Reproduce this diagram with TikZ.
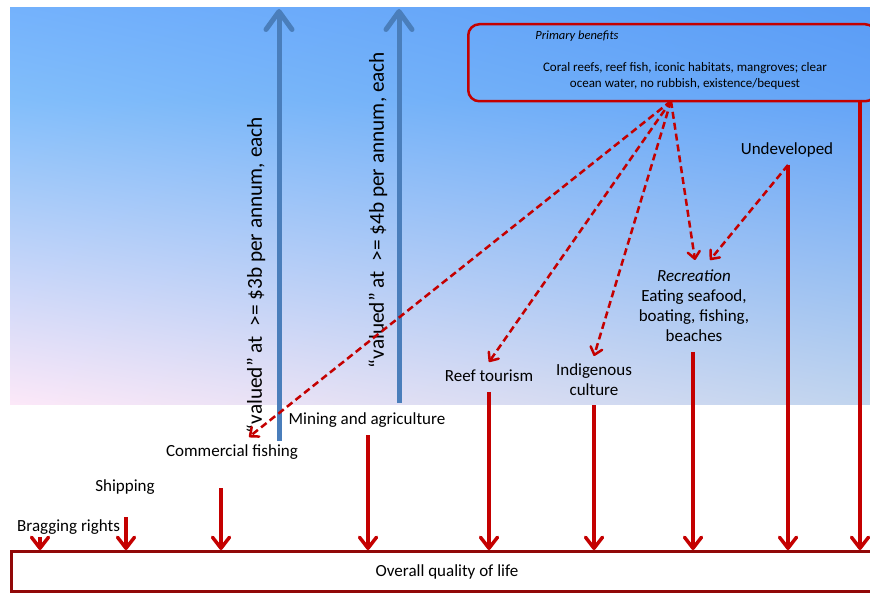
\documentclass[tikz,border=0pt]{standalone}
\usepackage{fontspec}
\setmainfont{Carlito}
\usetikzlibrary{arrows.meta,shadings}
\definecolor{bgUL}{RGB}{116,178,252}
\definecolor{bgUR}{RGB}{90,156,246}
\definecolor{bgML}{RGB}{130,190,250}
\definecolor{bgMR}{RGB}{100,164,247}
\definecolor{bgLL}{RGB}{252,232,248}
\definecolor{bgLR}{RGB}{192,212,238}
\definecolor{redc}{RGB}{196,0,0}
\definecolor{darkredc}{RGB}{145,8,8}
\definecolor{bluec}{RGB}{74,126,187}
\tikzset{
  lbl/.style={inner sep=1pt, font=\fontsize{17}{20}\selectfont, align=center},
  small/.style={inner sep=1pt, font=\fontsize{13}{16}\selectfont, align=center},
  rot/.style={inner sep=1pt, rotate=90, font=\fontsize{21.3}{24}\selectfont},
  solidarrow/.style={draw=redc, line width=3.5pt, -{Straight Barb[length=11pt,width=17pt,round]}},
  dasharrow/.style={draw=redc, line width=2.5pt, dash pattern=on 7pt off 4pt, -{Straight Barb[length=7pt,width=12pt,round]}},
  bluearrow/.style={draw=bluec, line width=5pt, -{Straight Barb[length=18pt,width=26pt,round]}},
}
\begin{document}
\begin{tikzpicture}[x=1pt,y=-1pt]
\useasboundingbox (0,0) rectangle (870,593);
\shade[upper left=bgUL, upper right=bgUR, lower left=bgML, lower right=bgMR] (10,8) rectangle (870,100.5);
\shade[upper left=bgML, upper right=bgMR, lower left=bgLL, lower right=bgLR] (10,100) rectangle (870,404);

% primary benefits box
\node[draw=redc, line width=2.5pt, rounded corners=11pt, minimum width=408pt, minimum height=77pt, anchor=north west] (prim) at (467,23) {};
\node[small, font=\fontsize{12.5}{16}\selectfont\itshape] (primtitle) at (577,36) {Primary benefits};
\node[small] (primtext) at (685,76) {Coral reefs, reef fish, iconic habitats, mangroves; clear\\ocean water, no rubbish, existence/bequest};

% bottom box
\node[draw=darkredc, line width=3pt, minimum width=880pt, minimum height=40pt, anchor=north west, inner sep=0pt] (qol) at (10,550) {};
\node[lbl] (qoltext) at (447,572) {Overall quality of life};

% labels
\node[lbl] (undev) at (787,150) {Undeveloped};
\node[lbl] (recr) at (694,306) {\textit{Recreation}\\Eating seafood,\\boating, fishing,\\beaches};
\node[lbl] (reef) at (489,376) {Reef tourism};
\node[lbl] (indig) at (594,380) {Indigenous\\culture};
\node[lbl] (mining) at (367,420) {Mining and agriculture};
\node[lbl] (comm) at (232,452) {Commercial fishing};
\node[lbl] (ship) at (125,487) {Shipping};
\node[lbl, anchor=west] (brag) at (16,527) {Bragging rights};

% blue arrows with labels
\coordinate (b1s) at (279,441);
\coordinate (b1e) at (279,9);
\coordinate (b2s) at (399,403);
\coordinate (b2e) at (399,9);
\draw[bluearrow] (b1s) -- (b1e);
\draw[bluearrow] (b2s) -- (b2e);
\node[rot] (val1) at (256,275) {“valued” at~ >= \$3b per annum, each};
\node[rot] (val2) at (378,210) {“valued” at~ >= \$4b per annum, each};

% dashed arrows
\coordinate (hub) at (671,101);
\coordinate (tcomm) at (249,437);
\coordinate (treef) at (489,362);
\coordinate (tindig) at (594,356);
\coordinate (trecr1) at (695,260);
\coordinate (trecr2) at (710,260);
\coordinate (undevs) at (788,165);
\draw[dasharrow] (hub) -- (tcomm);
\draw[dasharrow] (hub) -- (treef);
\draw[dasharrow] (hub) -- (tindig);
\draw[dasharrow] (hub) -- (trecr1);
\draw[dasharrow] (undevs) -- (trecr2);

% solid arrows to quality of life
\coordinate (s1) at (40,537);
\coordinate (s2) at (126,517);
\coordinate (s3) at (221,488);
\coordinate (s4) at (368,435);
\coordinate (s5) at (489,392);
\coordinate (s6) at (594,405);
\coordinate (s7) at (693,352);
\coordinate (s9) at (860,100);
\foreach \s in {s1,s2,s3,s4,s5,s6,s7,undevs,s9}
  \draw[solidarrow] (\s) -- (\s |- qol.north);
\end{tikzpicture}
\end{document}
